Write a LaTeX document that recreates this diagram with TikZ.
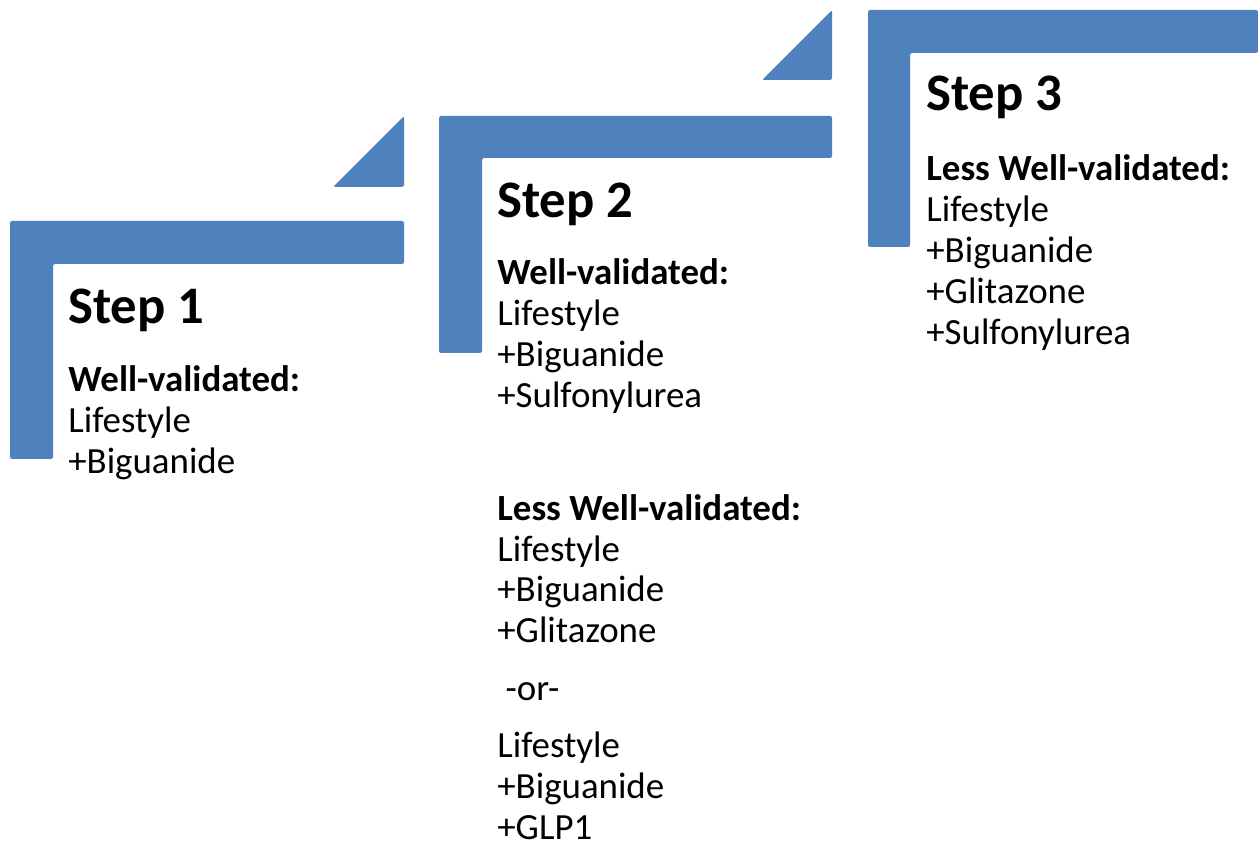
\documentclass[tikz,border=0pt]{standalone}
\usepackage{fontspec}
\setmainfont{Carlito}
\usepackage{tikz}
\usetikzlibrary{positioning}
\definecolor{stairblue}{HTML}{4F81BD}

\begin{document}
\begin{tikzpicture}[
  x=0.02cm, y=-0.02cm,
  stair/.style={fill=stairblue, rounded corners=1.2pt},
  head/.style={anchor=base west, inner sep=0pt, font=\fontsize{30}{36}\selectfont\bfseries},
  list/.style={anchor=north west, inner sep=0pt, align=left, font=\fontsize{21}{23.24}\selectfont}
]
\useasboundingbox (0,0) rectangle (1258,844);
% stairs
\fill[stair] (10,221) -- (404,221) -- (404,264) -- (53,264) -- (53,459) -- (10,459) -- cycle;
\fill[stair] (333,187) -- (404,116) -- (404,187) -- cycle;
\fill[stair] (439,116) -- (832,116) -- (832,158) -- (482,158) -- (482,353) -- (439,353) -- cycle;
\fill[stair] (762,80) -- (832,10) -- (832,80) -- cycle;
\fill[stair] (868,10) -- (1258,10) -- (1258,53) -- (910,53) -- (910,247) -- (868,247) -- cycle;
% texts (list tops = first baseline - strut height)
\node[head] (head1) at (68,324) {Step 1};
\node[head] (head2) at (497,218) {Step 2};
\node[head] (head3) at (926,111) {Step 3};
\node[list] (list1) at (68,363) {\strut\textbf{Well-validated:}\\Lifestyle\\+Biguanide};
\node[list] (list2) at (497,256) {\strut\textbf{Well-validated:}\\Lifestyle\\+Biguanide\\+Sulfonylurea\\[41pt]
  \textbf{Less Well-validated:}\\Lifestyle\\+Biguanide\\+Glitazone\\[9.5pt]
  \ -or-\\[9.5pt]
  Lifestyle\\+Biguanide\\+GLP1};
\node[list] (list3) at (926,152) {\strut\textbf{Less Well-validated:}\\Lifestyle\\+Biguanide\\+Glitazone\\+Sulfonylurea};
\end{tikzpicture}
\end{document}
